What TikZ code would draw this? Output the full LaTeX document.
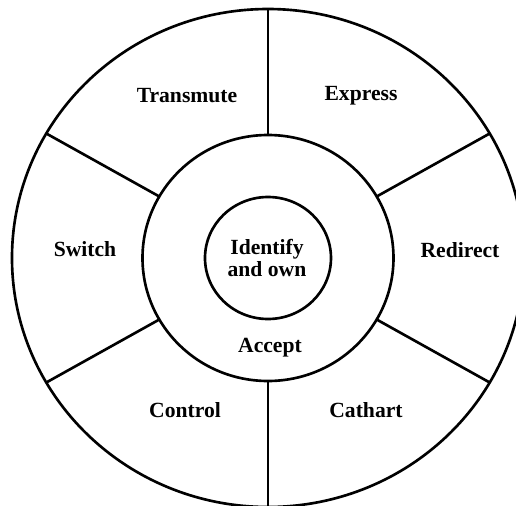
\documentclass[tikz,border=0pt]{standalone}
\usepackage{fontspec}
\setmainfont{Liberation Serif}
\usetikzlibrary{positioning}

\begin{document}
\begin{tikzpicture}[line width=1.5pt,
    lab/.style={font=\bfseries\fontsize{12.3}{12.8}\selectfont, align=center}]
    \useasboundingbox (-5.36,-4.96) rectangle (4.96,5.16);
    
    \coordinate(o)at(0,0);%中心
    \draw (o) ellipse [x radius=5.12, y radius=4.98];%外側の円
    \draw (o) ellipse [x radius=2.51, y radius=2.46];%中間の円
    \draw (o) ellipse [x radius=1.26, y radius=1.22];%内側の円
    
    \foreach\a in{30,90,150,210,270,330}{
        \coordinate(m\a)at(\a:2.51cm and 2.46cm);
        \coordinate(r\a)at(\a:5.12cm and 4.98cm);
        \draw (m\a)--(r\a);
    }
    
    \node[lab](transmute)at(-1.62,3.24){Transmute};
    \node[lab](express)at(1.86,3.24){Express};
    \node[lab](switch)at(-3.66,0.18){Switch};
    \node[lab](redirect)at(3.84,0.16){Redirect};
    \node[lab](control)at(-1.66,-3.04){Control};
    \node[lab](cathart)at(1.96,-3.04){Cathart};
    \node[lab](identify)at(-0.02,0){Identify\\and own};
    \node[lab](accept)at(0.04,-1.80){Accept};
\end{tikzpicture}
\end{document}
